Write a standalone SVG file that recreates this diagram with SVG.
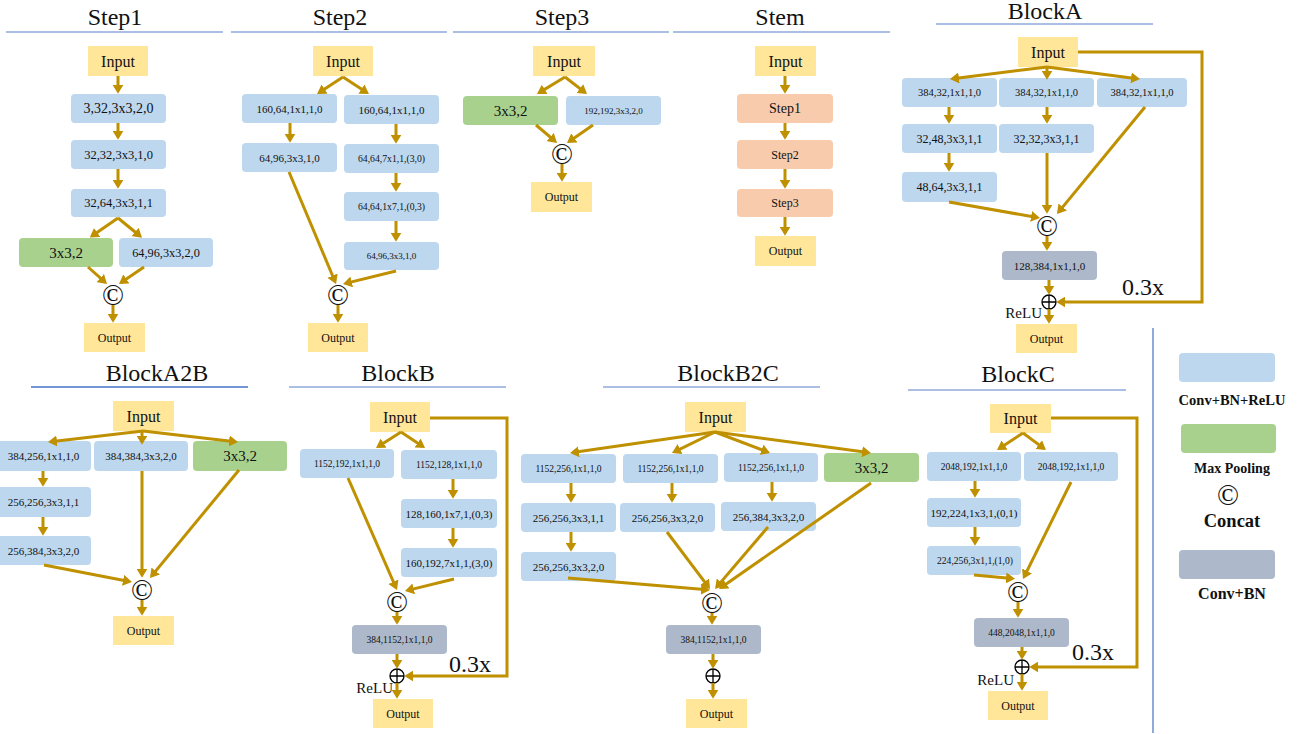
<svg xmlns="http://www.w3.org/2000/svg" width="1300" height="734" viewBox="0 0 1300 734" font-family="'Liberation Serif', 'Times New Roman', serif">
<defs>
<marker id="ah" viewBox="0 0 10 10" refX="7" refY="5" markerWidth="9" markerHeight="11" markerUnits="userSpaceOnUse" orient="auto" preserveAspectRatio="none"><path d="M0,0 L10,5 L0,10 z" fill="#bf9000"/></marker>
</defs>
<style>
text{font-family:"Liberation Serif","Times New Roman",serif;fill:#111;}
.c{text-anchor:middle;dominant-baseline:central;}
.ti{font-size:24px;text-anchor:middle;}
.hl{stroke:#8faadc;stroke-width:1.4;}
.hd{stroke:#4472c4;stroke-width:1.4;}
.y{fill:#ffe699;}
.b{fill:#bdd7ee;}
.g{fill:#a9d18e;}
.p{fill:#f8cbad;}
.d{fill:#adb9ca;}
.in{font-size:16px;}
.out{font-size:12px;}
.a{fill:none;stroke:#bf9000;stroke-width:3;marker-end:url(#ah);}
.cc{font-size:29px;text-anchor:middle;}
.pl circle{fill:#fff;stroke:#000;stroke-width:1.3;}
.pl path{stroke:#000;stroke-width:1.3;}
.lg{font-weight:bold;text-anchor:middle;}
</style>

<!-- titles -->
<g id="titles">
<text class="ti" x="115" y="25">Step1</text><line class="hl" x1="6" y1="32" x2="223" y2="32"/>
<text class="ti" x="340" y="25">Step2</text><line class="hl" x1="231" y1="32" x2="447" y2="32"/>
<text class="ti" x="562" y="25">Step3</text><line class="hl" x1="453" y1="32" x2="669" y2="32"/>
<text class="ti" x="780" y="25">Stem</text><line class="hl" x1="673" y1="32" x2="890" y2="32"/>
<text class="ti" x="1045" y="18.5">BlockA</text><line class="hl" x1="936" y1="24" x2="1153" y2="24"/>
<text class="ti" x="157" y="381">BlockA2B</text><line class="hd" x1="31" y1="387" x2="248" y2="387"/>
<text class="ti" x="398" y="381">BlockB</text><line class="hl" x1="289" y1="387" x2="506" y2="387"/>
<text class="ti" x="728" y="381">BlockB2C</text><line class="hl" x1="603" y1="387" x2="820" y2="387"/>
<text class="ti" x="1018" y="382">BlockC</text><line class="hl" x1="908" y1="390" x2="1126" y2="390"/>
<line id="separator" x1="1153" y1="328" x2="1153" y2="733" stroke="#4472c4" stroke-width="1.2"/>
</g>

<!-- Step1 -->
<g id="s1-input"><rect class="y" x="88" y="46" width="60" height="30"/><text class="c in" x="118" y="61">Input</text></g>
<g id="s1-n1"><rect class="b" x="71" y="94" width="95" height="29" rx="4"/><text class="c" x="118.5" y="108.5" font-size="14">3,32,3x3,2,0</text></g>
<g id="s1-n2"><rect class="b" x="71" y="140" width="95" height="29" rx="4"/><text class="c" x="118.5" y="154.5" font-size="12.5">32,32,3x3,1,0</text></g>
<g id="s1-n3"><rect class="b" x="71" y="189" width="95" height="28" rx="4"/><text class="c" x="118.5" y="203" font-size="12.5">32,64,3x3,1,1</text></g>
<g id="s1-pool"><rect class="g" x="19" y="238" width="94" height="29" rx="4"/><text class="c" x="66" y="252.5" font-size="15">3x3,2</text></g>
<g id="s1-n4"><rect class="b" x="119" y="238" width="94" height="29" rx="4"/><text class="c" x="166" y="252.5" font-size="12.3">64,96,3x3,2,0</text></g>
<g id="s1-concat"><text class="cc" x="113" y="305">©</text></g>
<g id="s1-output"><rect class="y" x="84" y="323" width="61" height="29"/><text class="c out" x="114.5" y="337.5">Output</text></g>

<!-- Step2 -->
<g id="s2-input"><rect class="y" x="313" y="46" width="60" height="30"/><text class="c in" x="343" y="61">Input</text></g>
<g id="s2-l1"><rect class="b" x="242" y="94" width="95" height="29" rx="4"/><text class="c" x="289.5" y="108.5" font-size="11">160,64,1x1,1,0</text></g>
<g id="s2-l2"><rect class="b" x="242" y="143" width="95" height="29" rx="4"/><text class="c" x="289.5" y="157.5" font-size="11">64,96,3x3,1,0</text></g>
<g id="s2-r1"><rect class="b" x="344" y="95" width="95" height="29" rx="4"/><text class="c" x="391.5" y="109.5" font-size="11">160,64,1x1,1,0</text></g>
<g id="s2-r2"><rect class="b" x="344" y="144" width="95" height="29" rx="4"/><text class="c" x="391.5" y="158.5" font-size="9.7">64,64,7x1,1,(3,0)</text></g>
<g id="s2-r3"><rect class="b" x="344" y="192" width="95" height="29" rx="4"/><text class="c" x="391.5" y="206.5" font-size="9.7">64,64,1x7,1,(0,3)</text></g>
<g id="s2-r4"><rect class="b" x="344" y="242" width="95" height="28" rx="4"/><text class="c" x="391.5" y="256" font-size="9">64,96,3x3,1,0</text></g>
<g id="s2-concat"><text class="cc" x="338" y="305">©</text></g>
<g id="s2-output"><rect class="y" x="308" y="323" width="60" height="29"/><text class="c out" x="338" y="337.5">Output</text></g>

<!-- Step3 -->
<g id="s3-input"><rect class="y" x="533" y="46" width="62" height="30"/><text class="c in" x="564" y="61">Input</text></g>
<g id="s3-pool"><rect class="g" x="463" y="96" width="95" height="29" rx="4"/><text class="c" x="510.5" y="110.5" font-size="15">3x3,2</text></g>
<g id="s3-conv"><rect class="b" x="566" y="96" width="95" height="29" rx="4"/><text class="c" x="613.5" y="110.5" font-size="9">192,192,3x3,2,0</text></g>
<g id="s3-concat"><text class="cc" x="562" y="164">©</text></g>
<g id="s3-output"><rect class="y" x="531" y="182" width="61" height="30"/><text class="c out" x="561.5" y="197">Output</text></g>

<!-- Stem -->
<g id="stem-input"><rect class="y" x="755" y="46" width="61" height="30"/><text class="c in" x="785.5" y="61">Input</text></g>
<g id="stem-step1"><rect class="p" x="737" y="94" width="96" height="29" rx="4"/><text class="c" x="785" y="108.5" font-size="14">Step1</text></g>
<g id="stem-step2"><rect class="p" x="737" y="140" width="96" height="29" rx="4"/><text class="c" x="785" y="154.5" font-size="12">Step2</text></g>
<g id="stem-step3"><rect class="p" x="737" y="189" width="96" height="28" rx="4"/><text class="c" x="785" y="203" font-size="12">Step3</text></g>
<g id="stem-output"><rect class="y" x="755" y="236" width="61" height="30"/><text class="c out" x="785.5" y="251">Output</text></g>

<!-- BlockA -->
<g id="a-input"><rect class="y" x="1018" y="37" width="60" height="30"/><text class="c in" x="1048" y="52">Input</text></g>
<g id="a-b1"><rect class="b" x="902" y="78" width="95" height="29" rx="4"/><text class="c" x="949.5" y="92.5" font-size="10.5">384,32,1x1,1,0</text></g>
<g id="a-b2"><rect class="b" x="999" y="78" width="95" height="29" rx="4"/><text class="c" x="1046.5" y="92.5" font-size="10.5">384,32,1x1,1,0</text></g>
<g id="a-b3"><rect class="b" x="1097" y="78" width="90" height="29" rx="4"/><text class="c" x="1142" y="92.5" font-size="10.5">384,32,1x1,1,0</text></g>
<g id="a-c1"><rect class="b" x="902" y="124" width="95" height="29" rx="4"/><text class="c" x="949.5" y="138.5" font-size="12">32,48,3x3,1,1</text></g>
<g id="a-c2"><rect class="b" x="999" y="124" width="95" height="29" rx="4"/><text class="c" x="1046.5" y="138.5" font-size="12">32,32,3x3,1,1</text></g>
<g id="a-d1"><rect class="b" x="902" y="172" width="95" height="30" rx="4"/><text class="c" x="949.5" y="187" font-size="12">48,64,3x3,1,1</text></g>
<g id="a-concat"><text class="cc" x="1047" y="236">©</text></g>
<g id="a-bn"><rect class="d" x="1002" y="251" width="95" height="29" rx="4"/><text class="c" x="1049.5" y="265.5" font-size="11">128,384,1x1,1,0</text></g>
<g id="a-add" class="pl"><circle cx="1049" cy="302" r="7"/><path d="M1042,302 H1056 M1049,295 V309"/></g>
<g id="a-relu"><text x="1042" y="318" font-size="15" text-anchor="end">ReLU</text></g>
<g id="a-scale"><text x="1122" y="295" font-size="24">0.3x</text></g>
<g id="a-output"><rect class="y" x="1016" y="324" width="61" height="29"/><text class="c out" x="1046.5" y="338.5">Output</text></g>

<!-- BlockA2B -->
<g id="a2b-input"><rect class="y" x="113" y="401" width="61" height="30"/><text class="c in" x="143.5" y="416">Input</text></g>
<g id="a2b-l1"><rect class="b" x="-4" y="441" width="95" height="30" rx="4"/><text class="c" x="43.5" y="456" font-size="11">384,256,1x1,1,0</text></g>
<g id="a2b-l2"><rect class="b" x="-4" y="487" width="95" height="30" rx="4"/><text class="c" x="43.5" y="502" font-size="11">256,256,3x3,1,1</text></g>
<g id="a2b-l3"><rect class="b" x="-4" y="536" width="95" height="29" rx="4"/><text class="c" x="43.5" y="550.5" font-size="11">256,384,3x3,2,0</text></g>
<g id="a2b-m1"><rect class="b" x="94" y="441" width="94" height="30" rx="4"/><text class="c" x="141" y="456" font-size="11">384,384,3x3,2,0</text></g>
<g id="a2b-pool"><rect class="g" x="193" y="441" width="94" height="30" rx="4"/><text class="c" x="240" y="456" font-size="15">3x3,2</text></g>
<g id="a2b-concat"><text class="cc" x="142" y="600">©</text></g>
<g id="a2b-output"><rect class="y" x="113" y="616" width="61" height="29"/><text class="c out" x="143.5" y="630.5">Output</text></g>

<!-- BlockB -->
<g id="b-input"><rect class="y" x="370" y="402" width="60" height="30"/><text class="c in" x="400" y="417">Input</text></g>
<g id="b-l1"><rect class="b" x="300" y="449" width="94" height="29" rx="4"/><text class="c" x="347" y="463.5" font-size="9.5">1152,192,1x1,1,0</text></g>
<g id="b-r1"><rect class="b" x="401" y="450" width="96" height="29" rx="4"/><text class="c" x="449" y="464.5" font-size="9.5">1152,128,1x1,1,0</text></g>
<g id="b-r2"><rect class="b" x="401" y="499" width="96" height="29" rx="4"/><text class="c" x="449" y="513.5" font-size="11">128,160,1x7,1,(0,3)</text></g>
<g id="b-r3"><rect class="b" x="401" y="548" width="96" height="29" rx="4"/><text class="c" x="449" y="562.5" font-size="11">160,192,7x1,1,(3,0)</text></g>
<g id="b-concat"><text class="cc" x="397" y="612">©</text></g>
<g id="b-bn"><rect class="d" x="352" y="625" width="95" height="29" rx="4"/><text class="c" x="399.5" y="639.5" font-size="9.5">384,1152,1x1,1,0</text></g>
<g id="b-add" class="pl"><circle cx="397" cy="676" r="7"/><path d="M390,676 H404 M397,669 V683"/></g>
<g id="b-relu"><text x="393" y="693" font-size="15" text-anchor="end">ReLU</text></g>
<g id="b-scale"><text x="449" y="672" font-size="24">0.3x</text></g>
<g id="b-output"><rect class="y" x="373" y="699" width="60" height="29"/><text class="c out" x="403" y="713.5">Output</text></g>

<!-- BlockB2C -->
<g id="b2c-input"><rect class="y" x="685" y="402" width="61" height="30"/><text class="c in" x="715.5" y="417">Input</text></g>
<g id="b2c-a1"><rect class="b" x="521" y="454" width="95" height="29" rx="4"/><text class="c" x="568.5" y="468.5" font-size="9.5">1152,256,1x1,1,0</text></g>
<g id="b2c-a2"><rect class="b" x="521" y="503" width="95" height="29" rx="4"/><text class="c" x="568.5" y="517.5" font-size="11">256,256,3x3,1,1</text></g>
<g id="b2c-a3"><rect class="b" x="521" y="552" width="95" height="29" rx="4"/><text class="c" x="568.5" y="566.5" font-size="11">256,256,3x3,2,0</text></g>
<g id="b2c-b1"><rect class="b" x="623" y="454" width="95" height="29" rx="4"/><text class="c" x="670.5" y="468.5" font-size="9.5">1152,256,1x1,1,0</text></g>
<g id="b2c-b2"><rect class="b" x="620" y="503" width="95" height="29" rx="4"/><text class="c" x="667.5" y="517.5" font-size="11">256,256,3x3,2,0</text></g>
<g id="b2c-c1"><rect class="b" x="724" y="453" width="94" height="29" rx="4"/><text class="c" x="771" y="467.5" font-size="9.5">1152,256,1x1,1,0</text></g>
<g id="b2c-c2"><rect class="b" x="721" y="502" width="95" height="29" rx="4"/><text class="c" x="768.5" y="516.5" font-size="11">256,384,3x3,2,0</text></g>
<g id="b2c-pool"><rect class="g" x="824" y="453" width="95" height="29" rx="4"/><text class="c" x="871.5" y="467.5" font-size="15">3x3,2</text></g>
<g id="b2c-concat"><text class="cc" x="712" y="613">©</text></g>
<g id="b2c-bn"><rect class="d" x="666" y="625" width="95" height="29" rx="4"/><text class="c" x="713.5" y="639.5" font-size="9.5">384,1152,1x1,1,0</text></g>
<g id="b2c-add" class="pl"><circle cx="713" cy="676" r="7"/><path d="M706,676 H720 M713,669 V683"/></g>
<g id="b2c-output"><rect class="y" x="686" y="699" width="61" height="29"/><text class="c out" x="716.5" y="713.5">Output</text></g>

<!-- BlockC -->
<g id="c-input"><rect class="y" x="990" y="404" width="61" height="29"/><text class="c in" x="1020.5" y="418.5">Input</text></g>
<g id="c-l1"><rect class="b" x="927" y="452" width="94" height="29" rx="4"/><text class="c" x="974" y="466.5" font-size="9.5">2048,192,1x1,1,0</text></g>
<g id="c-l2"><rect class="b" x="927" y="498" width="94" height="29" rx="4"/><text class="c" x="974" y="512.5" font-size="11">192,224,1x3,1,(0,1)</text></g>
<g id="c-l3"><rect class="b" x="927" y="546" width="94" height="29" rx="4"/><text class="c" x="975" y="560.5" font-size="9.6">224,256,3x1,1,(1,0)</text></g>
<g id="c-r1"><rect class="b" x="1024" y="452" width="94" height="29" rx="4"/><text class="c" x="1071" y="466.5" font-size="9.5">2048,192,1x1,1,0</text></g>
<g id="c-concat"><text class="cc" x="1018" y="602">©</text></g>
<g id="c-bn"><rect class="d" x="974" y="618" width="95" height="29" rx="4"/><text class="c" x="1021.5" y="632.5" font-size="9.5">448,2048,1x1,1,0</text></g>
<g id="c-add" class="pl"><circle cx="1022" cy="667" r="7"/><path d="M1015,667 H1029 M1022,660 V674"/></g>
<g id="c-relu"><text x="1014" y="685" font-size="15" text-anchor="end">ReLU</text></g>
<g id="c-scale"><text x="1072" y="660" font-size="24">0.3x</text></g>
<g id="c-output"><rect class="y" x="988" y="691" width="60" height="29"/><text class="c out" x="1018" y="705.5">Output</text></g>

<!-- Legend -->
<g id="legend-conv"><rect class="b" x="1179" y="353" width="96" height="29" rx="4"/><text class="lg" x="1232" y="405" font-size="14.5">Conv+BN+ReLU</text></g>
<g id="legend-pool"><rect class="g" x="1181" y="424" width="95" height="29" rx="4"/><text class="lg" x="1232" y="473" font-size="14">Max Pooling</text></g>
<g id="legend-concat"><text class="cc" x="1228" y="505">©</text><text class="lg" x="1232" y="527" font-size="18.5">Concat</text></g>
<g id="legend-bn"><rect class="d" x="1179" y="550" width="96" height="29" rx="4"/><text class="lg" x="1232" y="599" font-size="16">Conv+BN</text></g>

<!-- connectors -->
<g id="connectors">
<path class="a" d="M118,76 V91"/>
<path class="a" d="M118,123 V137"/>
<path class="a" d="M118,169 V186"/>
<path class="a" d="M118,218 L92,236"/>
<path class="a" d="M118,218 L140,236"/>
<path class="a" d="M88,267 L105,282.2"/>
<path class="a" d="M144,267 L121.2,282.5"/>
<path class="a" d="M113,305 V320"/>
<path class="a" d="M343,77 L319.3,92.5"/>
<path class="a" d="M343,77 L366.7,92.5"/>
<path class="a" d="M290,123 V140"/>
<path class="a" d="M396,124 V141"/>
<path class="a" d="M396,173 V189"/>
<path class="a" d="M396,221 V239"/>
<path class="a" d="M289,172 L335,281.5"/>
<path class="a" d="M396,271 L345.6,283.4"/>
<path class="a" d="M338,305 V320"/>
<path class="a" d="M565,77 L539.3,92.6"/>
<path class="a" d="M565,77 L584.9,92.4"/>
<path class="a" d="M536,125 L555,141.2"/>
<path class="a" d="M593,125 L569.2,141.5"/>
<path class="a" d="M562,164 V179"/>
<path class="a" d="M785,76 V91"/>
<path class="a" d="M785,123 V137"/>
<path class="a" d="M785,169 V186"/>
<path class="a" d="M785,217 V233"/>
<path class="a" d="M1047,67 L952.7,78.7"/>
<path class="a" d="M1047,67 V77"/>
<path class="a" d="M1047,67 L1137.3,78.7"/>
<path class="a" d="M949,107 V121"/>
<path class="a" d="M1047,107 V121"/>
<path class="a" d="M949,153 V169"/>
<path class="a" d="M949,202 L1037.3,217.5"/>
<path class="a" d="M1047,153 V211"/>
<path class="a" d="M1145,107 L1058.7,211.9"/>
<path class="a" d="M1047,236 V248"/>
<path class="a" d="M1049,280 V292"/>
<path class="a" d="M1049,309 V321"/>
<path class="a" d="M1078,52 H1202 V302 H1059"/>
<path class="a" d="M143,431 L50.7,441.7"/>
<path class="a" d="M142,431 V442"/>
<path class="a" d="M143,431 L235.3,441.7"/>
<path class="a" d="M43,471 V484"/>
<path class="a" d="M43,517 V533"/>
<path class="a" d="M44,565 L129.3,581.5"/>
<path class="a" d="M142,471 V575"/>
<path class="a" d="M239,470 L151.7,575.9"/>
<path class="a" d="M142,600 V613"/>
<path class="a" d="M401,432 L378.3,446.5"/>
<path class="a" d="M401,432 L422.8,446.5"/>
<path class="a" d="M453,479 V496"/>
<path class="a" d="M453,528 V545"/>
<path class="a" d="M348,478 L395.9,587.5"/>
<path class="a" d="M454,579 L407.6,590.4"/>
<path class="a" d="M397,612 V622"/>
<path class="a" d="M397,654 V666"/>
<path class="a" d="M397,683 V696"/>
<path class="a" d="M430,418 H507 V676 H407"/>
<path class="a" d="M715,432 L572.7,452.6"/>
<path class="a" d="M715,432 L674.4,451.8"/>
<path class="a" d="M715,432 L767.5,452"/>
<path class="a" d="M715,432 L868.3,452.6"/>
<path class="a" d="M571,483 V500"/>
<path class="a" d="M672,483 V500"/>
<path class="a" d="M772,482 V499"/>
<path class="a" d="M571,532 V549"/>
<path class="a" d="M568,578 L707.3,589.8"/>
<path class="a" d="M667,532 L708.4,586.8"/>
<path class="a" d="M768,527 L716.8,586.9"/>
<path class="a" d="M871,483 L721.2,587.5"/>
<path class="a" d="M712,613 V622"/>
<path class="a" d="M713,654 V666"/>
<path class="a" d="M713,683 V696"/>
<path class="a" d="M1023,433 L999.3,448.5"/>
<path class="a" d="M1023,433 L1043.8,448.4"/>
<path class="a" d="M975,481 V495"/>
<path class="a" d="M975,527 V543"/>
<path class="a" d="M974,575 L1012.3,578.5"/>
<path class="a" d="M1071,482 L1024.2,576.6"/>
<path class="a" d="M1018,602 V615"/>
<path class="a" d="M1022,647 V657"/>
<path class="a" d="M1022,674 V688"/>
<path class="a" d="M1051,418 H1137 V667 H1032"/>
</g>
</svg>
